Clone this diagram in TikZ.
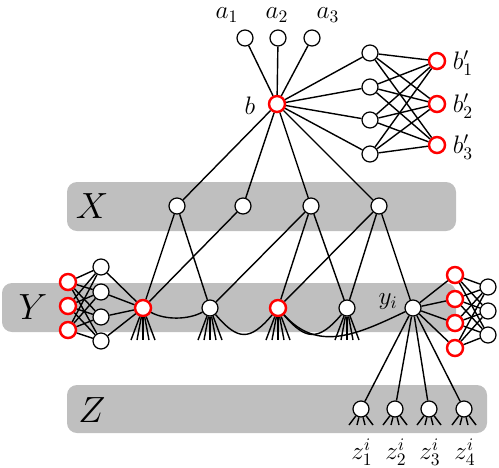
\documentclass[tikz,border=0pt]{standalone}
\usepackage{amsmath}
\usetikzlibrary{positioning}
\tikzset{
  vtx/.style={circle,draw=black,fill=white,line width=0.7pt,inner sep=0pt,minimum size=0.32cm},
  rvtx/.style={vtx,draw=red,line width=1.4pt},
  band/.style={fill=black!25,rounded corners=0.2cm},
  lbl/.style={inner sep=0pt,font=\Large},
  blbl/.style={inner sep=0pt,font=\huge},
}
\begin{document}
\begin{tikzpicture}[x=0.02cm,y=-0.02cm,line width=0.8pt]
  \useasboundingbox (0,0) rectangle (499,467);
  % bands
  \fill[band] (67,182) rectangle (456,231);
  \fill[band] (2,283) rectangle (456,332);
  \fill[band] (67,385) rectangle (487,433);
  \node[blbl] (lX) at (92,206) {$X$};
  \node[blbl] (lY) at (33,307) {$Y$};
  \node[blbl] (lZ) at (92,410) {$Z$};
  % top part
  \node[vtx] (a1) at (245,38) {};
  \node[vtx] (a2) at (278,38) {};
  \node[vtx] (a3) at (312,38) {};
  \node[lbl] (la1) at (227,15) {$a_1$};
  \node[lbl] (la2) at (277,15) {$a_2$};
  \node[lbl] (la3) at (328,15) {$a_3$};
  \node[rvtx] (b) at (277,104) {};
  \node[lbl] (lb) at (250,106) {$b$};
  \foreach \i/\y in {1/53,2/87,3/120,4/154}
    \node[vtx] (c\i) at (370,\y) {};
  \foreach \i/\y in {1/61,2/104,3/145} {
    \node[rvtx] (bb\i) at (437,\y) {};
    \node[lbl] (lbb\i) at (463,\y+2) {$b'_\i$};
  }
  % X row
  \foreach \i/\x in {1/177,2/243,3/311,4/379}
    \node[vtx] (x\i) at (\x,206) {};
  % Y row
  \node[rvtx] (y1) at (143,308) {};
  \node[vtx] (y2) at (210,308) {};
  \node[rvtx] (y3) at (278,308) {};
  \node[vtx] (y4) at (347,308) {};
  \node[vtx] (yi) at (413,308) {};
  \node[lbl] (lyi) at (388,302) {$y_i$};
  \foreach \i/\y in {1/282,2/306,3/330}
    \node[rvtx] (l\i) at (68,\y) {};
  \foreach \i/\y in {1/267,2/292,3/317,4/341}
    \node[vtx] (m\i) at (101,\y) {};
  \foreach \i/\y in {1/275,2/299,3/323,4/348}
    \node[rvtx] (r\i) at (455,\y) {};
  \foreach \i/\y in {1/287,2/311,3/335}
    \node[vtx] (s\i) at (488,\y) {};
  % Z row
  \foreach \i/\x in {1/362,2/396,3/430,4/465} {
    \node[vtx] (z\i) at (\x-1,409) {};
    \node[lbl] (lz\i) at (\x,452) {$z^i_\i$};
  }
  % edges
  \foreach \i in {1,2,3}
    \draw (a\i) -- (b);
  \foreach \i in {1,...,4} {
    \draw (b) -- (c\i);
    \draw (b) -- (x\i);
    \foreach \j in {1,2,3}
      \draw (c\i) -- (bb\j);
  }
  \draw (x1) -- (y1);
  \draw (x1) -- (y2);
  \draw (x2) -- (y1);
  \draw (x3) -- (y2);
  \draw (x3) -- (y3);
  \draw (x3) -- (y4);
  \draw (x4) -- (y3);
  \draw (x4) -- (y4);
  \draw (x4) -- (yi);
  \foreach \i in {1,...,4} {
    \draw (m\i) -- (y1);
    \foreach \j in {1,2,3}
      \draw (l\j) -- (m\i);
  }
  \foreach \i in {1,...,4} {
    \draw (yi) -- (r\i);
    \draw (yi) -- (z\i);
    \foreach \j in {1,2,3}
      \draw (r\i) -- (s\j);
  }
  % curved links in Y
  \draw (y1) .. controls +(22,12) and +(-22,12) .. (y2);
  \draw (y2) .. controls +(28,33) and +(-28,33) .. (y3);
  \draw (y3) .. controls +(28,33) and +(-28,33) .. (y4);
  \draw (y3) .. controls +(40,45) and +(-55,26) .. (yi);
  % legs
  \foreach \n in {y1,y2,y3,y4}
    \foreach \d in {-12,-6,0,6,12}
      \draw (\n) -- +(\d,32);
  \foreach \i in {1,...,4}
    \foreach \d in {-12,-4,4,12}
      \draw (z\i) -- +(\d,16);
\end{tikzpicture}
\end{document}
